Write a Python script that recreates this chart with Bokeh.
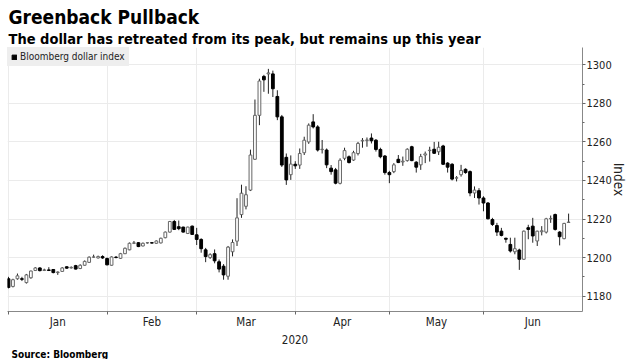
from bokeh.plotting import figure
from bokeh.models import (ColumnDataSource, FixedTicker, Range1d, Legend, LegendItem, Title)
from bokeh.embed import file_html
from bokeh.resources import INLINE

# ---- data: Bloomberg dollar index, daily OHLC, trading days 2 Jan - 26 Jun 2020 ----
open_ = [1189, 1185, 1189, 1189, 1187, 1189.5, 1193.3, 1194.6, 1193.3, 1193.6, 1193.8, 1192.2, 1192.8, 1195.2, 1194.6, 1195.8, 1194.3, 1196, 1197.5, 1200.2, 1199.8, 1200.5,
         1199.5, 1196, 1200.2, 1199.6, 1202, 1204, 1207.4, 1207.7, 1206, 1207.6, 1207.7, 1207.4, 1207.6, 1210.3, 1213.2, 1218.7, 1216, 1215.8, 1212.5, 1216.3,
         1211.8, 1209.4, 1204, 1200, 1202, 1197.8, 1195.5, 1190.3, 1203, 1208.5, 1222.3, 1226.6, 1235, 1251, 1273.8, 1294, 1295.3, 1295.3, 1283.6, 1273, 1252, 1243,
         1248.4, 1248, 1254.4, 1260, 1270.4, 1267.8, 1256, 1255.8, 1246.4, 1245.5, 1238.5, 1251.5, 1252.3, 1250.6, 1254, 1260.5, 1260.8, 1262, 1260.9, 1256.1, 1252.7,
         1244.1, 1244.6, 1251, 1249.6, 1250.3, 1257.5, 1249.5, 1248.1, 1253.2, 1255.5, 1256.2, 1254.9, 1257.9, 1249, 1248.4, 1241.2, 1243, 1245.8, 1244.6, 1233.5, 1234.7,
         1230.9, 1228.3, 1219.7, 1216.6, 1213.7, 1210, 1206.8, 1203, 1203.9, 1199.1, 1215.5, 1216.3, 1208.6, 1213.4, 1213.2, 1220.1, 1222.3, 1213.2, 1209.8, 1218.2]
high = [1190, 1189, 1191.7, 1190, 1191.5, 1193.2, 1195, 1195, 1194.2, 1195, 1194, 1192.8, 1195, 1195.5, 1195.4, 1196.2, 1196.5, 1198.5, 1200.6, 1201.5, 1201, 1201.2,
        1200, 1200.6, 1200.8, 1202.4, 1205.2, 1207.8, 1208.6, 1208, 1207.8, 1208, 1208, 1208.9, 1210.3, 1213.5, 1219, 1219.5, 1219.2, 1216, 1216, 1216.6,
        1215.4, 1210, 1205, 1202.2, 1204.2, 1199, 1196.6, 1206, 1209.4, 1230.8, 1237.8, 1237, 1256, 1282, 1292.8, 1294.8, 1297.9, 1297, 1286.8, 1274, 1254, 1253,
        1250, 1256.6, 1262.7, 1269.6, 1274.4, 1268.7, 1261, 1256.6, 1248, 1246.5, 1251.5, 1257, 1253, 1255.4, 1260, 1262, 1262.3, 1264.4, 1261.5, 1257, 1253.2,
        1245, 1249, 1253.2, 1252.4, 1256.7, 1258, 1250, 1253.8, 1255, 1257.5, 1260, 1260.1, 1258.5, 1249.5, 1249, 1242.3, 1248.1, 1246.3, 1245.2, 1236.9, 1236,
        1231.8, 1228.8, 1220.6, 1218, 1215.4, 1210.3, 1210.3, 1210.3, 1204.6, 1214, 1217, 1220.6, 1213.9, 1216.3, 1220.6, 1221.8, 1222.8, 1213.7, 1218, 1222.8]
low = [1184, 1184.5, 1188.5, 1187.8, 1186.5, 1189, 1193, 1192.8, 1193, 1193, 1191.8, 1191, 1192.5, 1194.2, 1194.3, 1193.8, 1194, 1195.8, 1197.2, 1199.8, 1199.5, 1199.3,
       1196, 1195.8, 1199.6, 1199.3, 1201.8, 1203.8, 1207, 1205.4, 1205.8, 1207.2, 1207.3, 1207.2, 1207.3, 1210, 1213, 1214.3, 1214.2, 1213, 1212.2, 1211.8,
       1206.5, 1202.5, 1197.6, 1199.3, 1197, 1192.3, 1188.5, 1188.5, 1200.6, 1206, 1220.6, 1225, 1234.5, 1250.7, 1268.7, 1286, 1285, 1283.3, 1271.3, 1247, 1237.7, 1240.3,
       1246, 1246, 1253.2, 1259, 1267, 1255, 1254, 1246.4, 1243, 1238, 1238, 1250.5, 1248.8, 1250.2, 1253, 1257, 1257.5, 1259.2, 1255, 1251.5, 1243,
       1238.6, 1243.8, 1249, 1247.6, 1249.8, 1250, 1244.1, 1245.5, 1249, 1249.8, 1253.8, 1253.2, 1248, 1244.1, 1240, 1239.5, 1242, 1243.5, 1231.8, 1230.9, 1227.5,
       1224, 1219.8, 1216.4, 1211.2, 1211, 1207.7, 1202.6, 1201.7, 1193.6, 1198.8, 1209.5, 1207.7, 1206, 1211.5, 1212.5, 1218, 1214, 1206.3, 1209.5, 1218]
close = [1184.5, 1188.5, 1190.5, 1188.7, 1191, 1193, 1194.6, 1193.2, 1193.6, 1193.3, 1192.2, 1192.5, 1194.6, 1194.5, 1194.9, 1194, 1196, 1198, 1200.2, 1200.3, 1200.5, 1199.8,
         1196.2, 1200.3, 1200, 1202, 1204.8, 1207.4, 1207.6, 1205.7, 1207.4, 1207.7, 1207.5, 1208.6, 1210, 1213.2, 1218.7, 1214.6, 1215, 1213.2, 1215.8, 1212,
         1209.4, 1204.6, 1200.5, 1201.5, 1198.3, 1194, 1191, 1205.4, 1207.8, 1220.6, 1233.4, 1232.6, 1253.2, 1273.8, 1291.6, 1292.2, 1295.8, 1287.6, 1273, 1248, 1240.3, 1248.5,
         1247.6, 1254, 1260.9, 1268.7, 1267.8, 1255.8, 1256.2, 1248.1, 1244.6, 1238.6, 1250.5, 1255.5, 1249.3, 1254.4, 1259.2, 1260.8, 1261, 1260.6, 1256.1, 1252.3, 1244.1,
         1243, 1248.1, 1249.3, 1250, 1256.2, 1250.3, 1246.9, 1252.4, 1253.8, 1255.7, 1254.1, 1257.2, 1248.4, 1246.9, 1240.7, 1241.4, 1245.2, 1244.1, 1233.5, 1235, 1230.9,
         1228.3, 1220.1, 1217.2, 1213.2, 1211.5, 1209.5, 1203.4, 1204.6, 1199.1, 1213.7, 1214.6, 1211.2, 1213.7, 1213.9, 1220.1, 1220.3, 1214.6, 1210.8, 1217.7, 1218.4]

# month names and the trading-day index at which each month starts (last entry = July start)
months = ["Jan", "Feb", "Mar", "Apr", "May", "Jun"]
month_start = [0, 22, 42, 64, 85, 106, 128]
y_ticks = [1180, 1200, 1220, 1240, 1260, 1280, 1300]

# ---- derived plotting columns ----
n = len(close)
xs = list(range(n))
up = [c >= o for o, c in zip(open_, close)]
src_up = ColumnDataSource(dict(
    x=[x for x, u in zip(xs, up) if u],
    top=[c for c, u in zip(close, up) if u],
    bottom=[o for o, u in zip(open_, up) if u]))
src_dn = ColumnDataSource(dict(
    x=[x for x, u in zip(xs, up) if not u],
    top=[o for o, u in zip(open_, up) if not u],
    bottom=[c for c, u in zip(close, up) if not u]))
src_w = ColumnDataSource(dict(x=xs, high=high, low=low))

FONT = "DejaVu Sans Condensed"

p = figure(width=633, height=359, output_backend="svg", toolbar_location=None,
           title=None, y_axis_location="right",
           x_range=Range1d(-0.22, 128.1), y_range=Range1d(1172, 1309),
           min_border_left=7, min_border_right=51, min_border_top=47, min_border_bottom=46)
p.outline_line_color = None
p.background_fill_color = "white"
p.border_fill_color = "white"

# candles
p.segment(x0="x", y0="low", x1="x", y1="high", source=src_w, line_color="#222222", line_width=1)
r_up = p.vbar(x="x", top="top", bottom="bottom", width=0.62, source=src_up,
              fill_color="white", line_color="#666666", line_width=1)
r_dn = p.vbar(x="x", top="top", bottom="bottom", width=0.62, source=src_dn,
              fill_color="black", line_color="black", line_width=1)

# x axis: labels mid-month, small ticks at month boundaries
mids = [(a + b) / 2 for a, b in zip(month_start[:-1], month_start[1:])]
xax = p.xaxis[0]
xax.ticker = FixedTicker(ticks=mids, minor_ticks=month_start[:-1])
xax.major_label_overrides = {m: name for m, name in zip(mids, months)}
xax.major_tick_out = 0
xax.major_tick_in = 0
xax.minor_tick_out = 3
xax.minor_tick_in = 0
xax.minor_tick_line_color = "#666666"
xax.axis_line_color = "#888888"
xax.major_label_text_font = FONT
xax.major_label_text_font_size = "11.5px"
xax.major_label_text_color = "#222222"
xax.major_label_standoff = 0
xax.axis_label = "2020"
xax.axis_label_text_font = FONT
xax.axis_label_text_font_size = "11.5px"
xax.axis_label_text_font_style = "normal"
xax.axis_label_text_color = "#222222"
xax.axis_label_standoff = 3

p.xgrid.ticker = FixedTicker(ticks=month_start[:-1])
p.xgrid.grid_line_color = "#ebebeb"

# y axis on the right
yax = p.yaxis[0]
yax.ticker = FixedTicker(ticks=y_ticks, minor_ticks=[t + 10 for t in y_ticks] + [y_ticks[0] - 10])
yax.major_tick_out = 3
yax.major_tick_in = 0
yax.minor_tick_out = 2
yax.minor_tick_in = 0
yax.major_tick_line_color = "#666666"
yax.minor_tick_line_color = "#666666"
yax.axis_line_color = "#888888"
yax.major_label_text_font = FONT
yax.major_label_text_font_size = "11px"
yax.major_label_text_color = "#222222"
yax.major_label_standoff = 1
yax.axis_label = "Index"
yax.axis_label_text_font = FONT
yax.axis_label_text_font_size = "13.5px"
yax.axis_label_text_font_style = "normal"
yax.axis_label_text_color = "#222222"
yax.axis_label_standoff = -4
p.ygrid.grid_line_color = "#ebebeb"

# legend
legend = Legend(items=[LegendItem(label="Bloomberg dollar index", renderers=[r_dn])],
                location="top_left", orientation="horizontal")
legend.background_fill_color = "#eeeeee"
legend.background_fill_alpha = 1
legend.border_line_alpha = 0
legend.margin = 0
legend.padding = 4
legend.glyph_width = 6
legend.glyph_height = 6
legend.label_standoff = 3
legend.label_text_font = FONT
legend.label_text_font_size = "10px"
legend.label_text_color = "#222222"
legend.label_height = 10
p.add_layout(legend, "center")

# titles (subtitle first so the main title sits above it)
sub = Title(text="The dollar has retreated from its peak, but remains up this year",
            text_font=FONT, text_font_size="14.5px", text_font_style="bold", text_color="black",
            align="left", standoff=2, offset=1)
p.add_layout(sub, "above")
main = Title(text="Greenback Pullback", text_font=FONT, text_font_size="19px",
             text_font_style="bold", text_color="black", align="left", standoff=0, offset=1)
p.add_layout(main, "above")
src_note = Title(text="Source: Bloomberg", text_font=FONT, text_font_size="10px",
                 text_font_style="bold", text_color="black", align="left", standoff=0, offset=4)
p.add_layout(src_note, "below")

open("out.html", "w").write(file_html(p, INLINE))
